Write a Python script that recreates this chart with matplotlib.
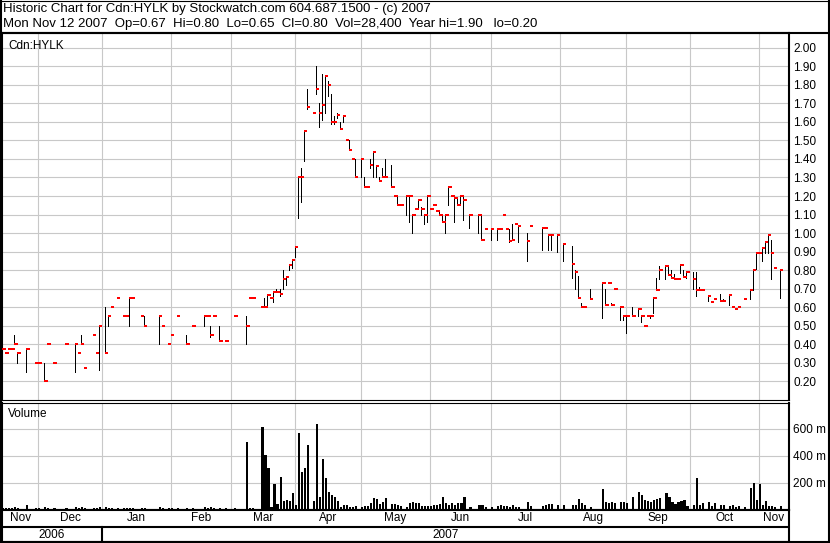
import numpy as np
import matplotlib.pyplot as plt
from matplotlib.lines import Line2D

plt.rcParams['font.family'] = ['Liberation Sans', 'DejaVu Sans']

# daily quotes for Cdn:HYLK, days without a trade are left out
dates = [
    '2006-11-15', '2006-11-16', '2006-11-17', '2006-11-20', '2006-11-21', '2006-11-22', '2006-11-27', '2006-11-30',
    '2006-12-01', '2006-12-05', '2006-12-06', '2006-12-08', '2006-12-14', '2006-12-19', '2006-12-20', '2006-12-21',
    '2006-12-22', '2006-12-27', '2006-12-28', '2006-12-29',
    '2007-01-02', '2007-01-03', '2007-01-04', '2007-01-08', '2007-01-10', '2007-01-11', '2007-01-12', '2007-01-15',
    '2007-01-18', '2007-01-19', '2007-01-26', '2007-01-29', '2007-01-31',
    '2007-02-01', '2007-02-05', '2007-02-08', '2007-02-12', '2007-02-16', '2007-02-19', '2007-02-20', '2007-02-21',
    '2007-02-23', '2007-02-27',
    '2007-03-02', '2007-03-08', '2007-03-09', '2007-03-12', '2007-03-15', '2007-03-16', '2007-03-19', '2007-03-20',
    '2007-03-21', '2007-03-22', '2007-03-23', '2007-03-26', '2007-03-27', '2007-03-28', '2007-03-29', '2007-03-30',
    '2007-04-02', '2007-04-03', '2007-04-04', '2007-04-05', '2007-04-09', '2007-04-10', '2007-04-11', '2007-04-12',
    '2007-04-13', '2007-04-16', '2007-04-17', '2007-04-18', '2007-04-19', '2007-04-20', '2007-04-23', '2007-04-24',
    '2007-04-25', '2007-04-26', '2007-04-27',
    '2007-05-01', '2007-05-02', '2007-05-03', '2007-05-04', '2007-05-07', '2007-05-08', '2007-05-09', '2007-05-10',
    '2007-05-11', '2007-05-15', '2007-05-16', '2007-05-17', '2007-05-18', '2007-05-22', '2007-05-23', '2007-05-24',
    '2007-05-25', '2007-05-28', '2007-05-29', '2007-05-30', '2007-05-31',
    '2007-06-01', '2007-06-04', '2007-06-05', '2007-06-06', '2007-06-07', '2007-06-08', '2007-06-11', '2007-06-12',
    '2007-06-13', '2007-06-14', '2007-06-15', '2007-06-18', '2007-06-20', '2007-06-25', '2007-06-26', '2007-06-27',
    '2007-06-29',
    '2007-07-03', '2007-07-04', '2007-07-05', '2007-07-06', '2007-07-09', '2007-07-10', '2007-07-11', '2007-07-12',
    '2007-07-17', '2007-07-18', '2007-07-24', '2007-07-25', '2007-07-26', '2007-07-27', '2007-07-31',
    '2007-08-02', '2007-08-07', '2007-08-08', '2007-08-09', '2007-08-10', '2007-08-13', '2007-08-15', '2007-08-21',
    '2007-08-22', '2007-08-23', '2007-08-24', '2007-08-27', '2007-08-29', '2007-08-30', '2007-08-31',
    '2007-09-04', '2007-09-06', '2007-09-07', '2007-09-10', '2007-09-11', '2007-09-12', '2007-09-13', '2007-09-14',
    '2007-09-17', '2007-09-19', '2007-09-20', '2007-09-21', '2007-09-24', '2007-09-25', '2007-09-26', '2007-09-27',
    '2007-09-28',
    '2007-10-02', '2007-10-03', '2007-10-04', '2007-10-05', '2007-10-09', '2007-10-10', '2007-10-11', '2007-10-15',
    '2007-10-16', '2007-10-18', '2007-10-19', '2007-10-22', '2007-10-23', '2007-10-25', '2007-10-29', '2007-10-30',
    '2007-10-31',
    '2007-11-01', '2007-11-02', '2007-11-05', '2007-11-06', '2007-11-07', '2007-11-08', '2007-11-12',
]

high = [
    .375, .35, .375, .375, .45, .35, .38, .30,
    .30, .30, .40, .30, .40, .40, .35, .45, .27, .45, .35, .50,
    .60, .55, .60, .65, .55, .55, .65, .65, .55, .55, .55, .50, .40,
    .45, .55, .45, .50, .55, .55, .50, .55, .50, .42,
    .55, .55, .65, .65, .60, .65, .67, .65, .68, .70, .70, .80, .765, .835, .86, .925,
    1.30, 1.35, 1.55, 1.78, 1.65, 1.90, 1.70, 1.86, 1.85, 1.82, 1.75, 1.63, 1.65, 1.60, 1.63, 1.50, 1.50, 1.40, 1.40,
    1.40, 1.30, 1.25, 1.40, 1.44, 1.36, 1.30, 1.35, 1.40, 1.37, 1.20, 1.20, 1.15, 1.20, 1.20, 1.10, 1.13, 1.18,
    1.14, 1.10, 1.20,
    1.13, 1.15, 1.12, 1.12, 1.10, 1.10, 1.25, 1.20, 1.20, 1.19, 1.20, 1.20, 1.10, 1.10, 1.10, 1.02, 1.02,
    1.02, 1.02, 1.10, 1.02, 1.02, 1.05, 1.05, 1.04, 1.00, 1.04, 1.03, 1.03, .99, .99, .99,
    .94, .93, .80, .77, .62, .60, .70, .73, .70, .73, .62, .70, .60, .55, .55,
    .60, .59, .55, .50, .55, .55, .65, .76, .82, .82, .82, .80, .78, .75, .83, .80, .79,
    .79, .79, .71, .695, .66, .63, .645, .67, .645, .67, .60, .59, .60, .645, .695, .80, .89,
    .89, .92, .95, .99, .965, .81, .80,
]

low = [
    .375, .35, .375, .375, .40, .30, .25, .30,
    .30, .20, .40, .30, .40, .25, .35, .40, .27, .45, .35, .26,
    .35, .50, .60, .65, .55, .55, .50, .65, .55, .50, .40, .50, .40,
    .45, .55, .40, .50, .50, .55, .44, .55, .42, .42,
    .55, .40, .65, .65, .60, .60, .61, .65, .63, .68, .66, .70, .72, .80, .81, .87,
    1.08, 1.165, 1.39, 1.67, 1.65, 1.75, 1.57, 1.61, 1.65, 1.74, 1.59, 1.59, 1.62, 1.56, 1.60, 1.50, 1.45, 1.40, 1.30,
    1.30, 1.25, 1.25, 1.35, 1.30, 1.30, 1.28, 1.30, 1.30, 1.25, 1.20, 1.15, 1.15, 1.10, 1.06, 1.00, 1.13, 1.13,
    1.10, 1.05, 1.06,
    1.13, 1.15, 1.12, 1.10, 1.06, 1.00, 1.15, 1.20, 1.06, 1.15, 1.15, 1.07, 1.03, 1.00, .965, 1.02, .96,
    .96, 1.02, 1.10, 1.02, .95, .96, 1.05, .95, .85, 1.04, .91, 1.03, .91, .91, .90,
    .85, .76, .70, .65, .60, .60, .645, .54, .61, .73, .61, .70, .53, .53, .46,
    .55, .55, .52, .50, .55, .54, .57, .695, .75, .75, .775, .76, .75, .75, .785, .765, .76,
    .70, .66, .695, .695, .635, .63, .645, .635, .635, .61, .60, .59, .60, .645, .645, .695, .805,
    .89, .85, .89, .89, .75, .81, .65,
]

close = [
    .375, .35, .375, .375, .40, .35, .375, .30,
    .30, .20, .40, .30, .40, .40, .35, .40, .27, .45, .35, .50,
    .35, .55, .60, .65, .55, .55, .65, .65, .55, .50, .55, .50, .40,
    .45, .55, .40, .50, .55, .55, .45, .55, .42, .42,
    .55, .50, .65, .65, .60, .60, .665, .65, .68, .68, .67, .75, .765, .83, .855, .925,
    1.30, 1.30, 1.55, 1.68, 1.65, 1.775, 1.65, 1.69, 1.85, 1.80, 1.60, 1.60, 1.635, 1.56, 1.63, 1.50, 1.45, 1.40, 1.30,
    1.40, 1.25, 1.25, 1.365, 1.44, 1.36, 1.28, 1.30, 1.30, 1.25, 1.20, 1.15, 1.15, 1.20, 1.20, 1.10, 1.13, 1.18,
    1.13, 1.10, 1.20,
    1.13, 1.15, 1.12, 1.10, 1.06, 1.10, 1.25, 1.20, 1.19, 1.15, 1.20, 1.18, 1.10, 1.10, .965, 1.02, 1.02,
    1.02, 1.02, 1.10, 1.02, .955, .96, 1.05, 1.04, .955, 1.04, 1.03, 1.03, .99, .99, .99,
    .94, .835, .79, .65, .60, .60, .645, .73, .61, .73, .61, .70, .60, .55, .55,
    .55, .59, .55, .50, .55, .55, .65, .695, .80, .82, .775, .76, .75, .75, .83, .765, .79,
    .75, .695, .695, .695, .66, .63, .645, .635, .635, .665, .60, .59, .60, .645, .695, .80, .89,
    .89, .92, .95, .99, .895, .81, .80,
]

# thousands of shares
volume = [
    12, 10, 14, 12, 20, 14, 30, 12,
    10, 18, 12, 10, 10, 22, 12, 16, 10, 12, 14, 20,
    22, 14, 12, 10, 10, 12, 14, 10, 12, 14, 16, 10, 12,
    10, 10, 14, 10, 18, 14, 16, 12, 14, 10,
    10, 498, 14, 10, 609, 402, 306, 16, 188, 41, 240, 65, 70, 65, 122, 36,
    565, 279, 306, 476, 65, 631, 92, 373, 232, 129, 105, 95, 65, 22, 31, 36, 21, 16, 26,
    20, 26, 26, 48, 82, 80, 41, 55, 82, 41, 41, 36, 26, 21, 46, 55, 50, 46, 26, 26, 26,
    28, 33, 31, 41, 90, 46, 31, 46, 31, 50, 50, 90, 21, 36, 31, 21, 21,
    26, 31, 26, 26, 21, 31, 21, 21, 55, 26, 26, 31, 38, 41, 36,
    36, 31, 36, 75, 46, 31, 21, 149, 55, 46, 55, 46, 55, 55, 46,
    92, 129, 105, 70, 60, 55, 70, 80, 85, 119, 92, 55, 41, 55, 60, 70, 26,
    31, 232, 31, 46, 55, 26, 46, 36, 36, 26, 31, 21, 26, 21, 159, 198, 70,
    188, 31, 65, 26, 26, 21, 28,
]

month_starts = ['2006-12-01', '2007-01-01', '2007-02-01', '2007-03-01', '2007-04-01', '2007-05-01',
                '2007-06-01', '2007-07-01', '2007-08-01', '2007-09-01', '2007-10-01', '2007-11-01']
month_names = ['Nov', 'Dec', 'Jan', 'Feb', 'Mar', 'Apr', 'May', 'Jun', 'Jul', 'Aug', 'Sep', 'Oct', 'Nov']
years = ['2006', '2007']
price_ticks = [0.2, 0.3, 0.4, 0.5, 0.6, 0.7, 0.8, 0.9, 1.0, 1.1, 1.2, 1.3, 1.4, 1.5, 1.6, 1.7, 1.8, 1.9, 2.0]
vol_ticks = [200, 400, 600]

header1 = 'Historic Chart for Cdn:HYLK by Stockwatch.com 604.687.1500 - (c) 2007'
header2 = 'Mon Nov 12 2007  Op=0.67  Hi=0.80  Lo=0.65  Cl=0.80  Vol=28,400  Year hi=1.90   lo=0.20'

# x axis counts weekdays only (holidays stay as gaps)
start = '2006-11-01'
x = np.busday_count(start, dates)
high = np.array(high)
low = np.array(low)
close = np.array(close)
grid_x = np.busday_count(start, np.busday_offset(month_starts, 0, roll='backward'))
x0, x1 = 9.95, 271.0
y0, y1 = 0.0988, 2.08

W, H = 830, 543
fig = plt.figure(figsize=(W / 100, H / 100), dpi=100)


def box(l, t, r, b):
    return [l / W, 1 - b / H, (r - l) / W, (b - t) / H]


def fline(xs, ys, lw):
    fig.add_artist(Line2D([v / W for v in xs], [1 - v / H for v in ys], color='black', lw=lw,
                          solid_capstyle='butt'))


gcol = '#c8c8c8'
fs = 8.5

# price panel
ax = fig.add_axes(box(2, 33, 789, 400))
ax.set_xlim(x0, x1)
ax.set_ylim(y0, y1)
ax.set_xticks(grid_x)
ax.set_yticks(price_ticks)
ax.set_yticklabels(['%.2f' % p for p in price_ticks])
ax.yaxis.tick_right()
ax.tick_params(axis='x', length=0, labelbottom=False)
ax.tick_params(axis='y', length=0, pad=3, labelsize=fs)
ax.grid(color=gcol, lw=0.8)
ax.set_axisbelow(True)
m = high > low
ax.vlines(x[m], low[m], high[m], colors='black', lw=0.72, antialiased=False)
# close marks: small red block (about 2 px tall) right of the bar
tick_h = (y1 - y0) * 2.0 / 367
ax.bar(x, tick_h, bottom=close - tick_h / 2, width=1.15, align='edge', color='red',
       linewidth=0, antialiased=False, zorder=3)
ax.text(6 / 787, 0.965, 'Cdn:HYLK', transform=ax.transAxes, fontsize=fs, va='center')
for s in ['left', 'right', 'top']:
    ax.spines[s].set_linewidth(1.5)
ax.spines['bottom'].set_linewidth(0.8)

# volume panel
av = fig.add_axes(box(2, 402.5, 789, 509.5))
av.set_xlim(x0, x1)
av.set_ylim(0, 794)
av.bar(x, volume, width=0.7, align='edge', color='black', linewidth=0, antialiased=False)
av.set_xticks(grid_x)
av.set_yticks(vol_ticks)
av.set_yticklabels(['%d m' % v for v in vol_ticks])
av.yaxis.tick_right()
av.tick_params(axis='x', length=0, labelbottom=False)
av.tick_params(axis='y', length=0, pad=3, labelsize=fs)
av.grid(color=gcol, lw=0.8)
av.set_axisbelow(True)
av.text(6 / 787, 0.89, 'Volume', transform=av.transAxes, fontsize=fs, va='center')
for s in ['left', 'right']:
    av.spines[s].set_linewidth(1.5)
av.spines['top'].set_linewidth(0.8)
av.spines['bottom'].set_linewidth(1.5)

# month / year rows
ad = fig.add_axes(box(2, 509.5, 789, 542))
ad.set_xlim(x0, x1)
ad.set_ylim(0, 1)
ad.set_xticks([])
ad.set_yticks([])
for s in ad.spines.values():
    s.set_linewidth(1.5)
row = (542 - 527) / (542 - 509.5)
ad.axhline(row, color='black', lw=1.5)
edges = [x0] + list(grid_x) + [x1]
for i, name in enumerate(month_names):
    ad.text((edges[i] + edges[i + 1]) / 2, (1 + row) / 2, name, ha='center', va='center', fontsize=fs)
ad.plot([grid_x[1], grid_x[1]], [0, row], color='black', lw=1.5)
ad.text((x0 + grid_x[1]) / 2, row / 2, years[0], ha='center', va='center', fontsize=fs)
ad.text((grid_x[1] + x1) / 2, row / 2, years[1], ha='center', va='center', fontsize=fs)

# outer frame
fline([0, W], [33, 33], 1.5)
fline([1, 1], [0, H], 1.5)
fline([829, 829], [0, H], 1.5)
fline([0, W], [0.5, 0.5], 0.8)
fline([0, W], [542, 542], 1.5)

fig.text(3 / W, 1 - 9 / H, header1, fontsize=9.5, va='center')
fig.text(3 / W, 1 - 24.5 / H, header2, fontsize=9.5, va='center')

fig.savefig('out.png', dpi=100)
